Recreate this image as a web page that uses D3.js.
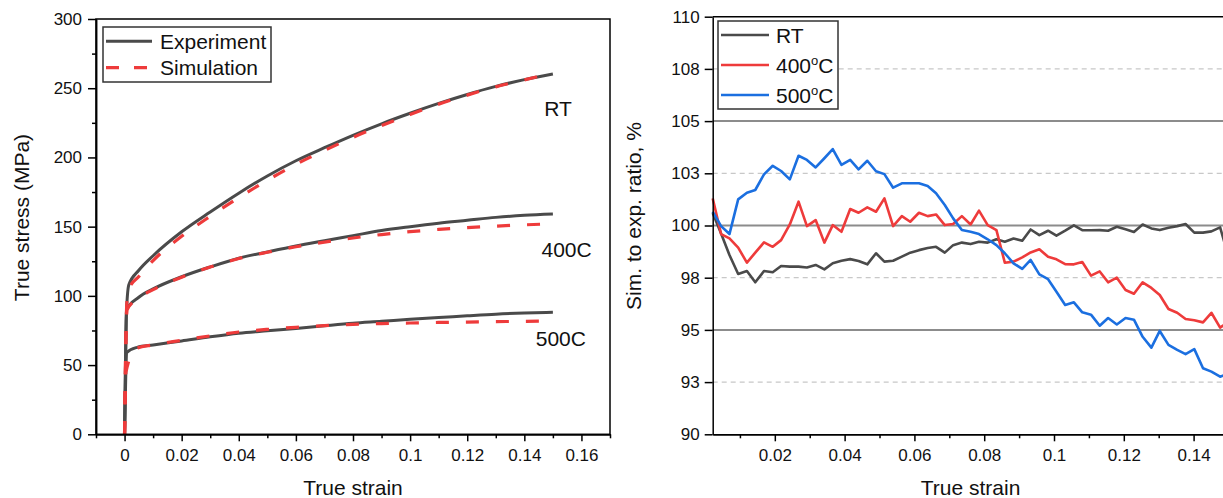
<!DOCTYPE html>
<html>
<head>
<meta charset="utf-8">
<script src="https://cdn.jsdelivr.net/npm/d3@7"></script>
<style>
  body { margin: 0; background: #fff; }
  svg { display: block; }
</style>
</head>
<body>
<svg id="chart" width="1223" height="498"></svg>
<script>
// ---------------- Left panel: true stress–strain curves ----------------
const rtExpStrain   = [0, 0.0003, 0.0006, 0.0015, 0.005, 0.01, 0.02, 0.03, 0.04, 0.05, 0.06, 0.07, 0.08, 0.09, 0.10, 0.11, 0.12, 0.13, 0.14, 0.15];
const rtExpStress   = [0, 45, 85, 108, 118.5, 129, 146.3, 160.6, 174.2, 186.6, 197.6, 207, 216, 224.3, 231.9, 239, 245.5, 251.3, 256.2, 260.3];
const t400ExpStrain = [0, 0.0004, 0.0007, 0.005, 0.01, 0.02, 0.03, 0.04, 0.05, 0.06, 0.07, 0.08, 0.09, 0.10, 0.11, 0.12, 0.13, 0.14, 0.15];
const t400ExpStress = [0, 60, 90, 99, 105, 113.8, 120.9, 127.2, 131.7, 136, 139.8, 143.5, 147.2, 150, 152.5, 154.6, 156.7, 158.2, 159.1];
const t500ExpStrain = [0, 0.0004, 0.0007, 0.0044, 0.01, 0.02, 0.03, 0.04, 0.05, 0.06, 0.07, 0.08, 0.09, 0.10, 0.11, 0.12, 0.13, 0.14, 0.15];
const t500ExpStress = [0, 40, 59, 62.8, 64.5, 67.4, 70.4, 73, 74.8, 76.5, 78.4, 80.2, 81.6, 83.1, 84.3, 85.6, 86.8, 87.6, 88.1];

const rtSimStrain   = [0, 0.0008, 0.0015, 0.005, 0.01, 0.02, 0.03, 0.04, 0.05, 0.06, 0.07, 0.08, 0.09, 0.10, 0.11, 0.12, 0.13, 0.14, 0.148];
const rtSimStress   = [0, 95, 105, 114, 125.5, 143, 157.5, 171, 183.5, 195, 205, 214.5, 223, 231, 238.5, 245, 251, 256, 260];
const t400SimStrain = [0, 0.0005, 0.0009, 0.005, 0.01, 0.02, 0.03, 0.04, 0.05, 0.06, 0.07, 0.08, 0.09, 0.10, 0.11, 0.12, 0.13, 0.14, 0.148];
const t400SimStress = [0, 70, 90, 98.5, 104.5, 113.5, 120.8, 127, 131.5, 135.5, 138.8, 141.8, 144.3, 146.4, 148, 149.3, 150.4, 151.3, 151.9];
const t500SimStrain = [0, 0.0005, 0.004, 0.01, 0.02, 0.03, 0.04, 0.05, 0.06, 0.07, 0.08, 0.09, 0.10, 0.11, 0.12, 0.13, 0.14, 0.148];
const t500SimStress = [0, 45, 62, 64.6, 67.9, 71.1, 73.9, 75.8, 77.3, 78.5, 79.4, 80, 80.4, 80.8, 81.1, 81.4, 81.6, 81.8];

const curveLabels = ["RT", "400C", "500C"];
const curveLabelAt = [[0.147, 230], [0.146, 128], [0.144, 64]];   // [strain, stress] anchor of each label
const stressLegend = ["Experiment", "Simulation"];

const strainTicksL = [0, 0.02, 0.04, 0.06, 0.08, 0.10, 0.12, 0.14, 0.16];
const strainMinorL = [-0.01, 0.01, 0.03, 0.05, 0.07, 0.09, 0.11, 0.13, 0.15, 0.17];
const stressTicks  = [0, 50, 100, 150, 200, 250, 300];
const stressMinor  = [25, 75, 125, 175, 225, 275];

// ---------------- Right panel: simulation / experiment ratio ----------------
const ratioStrain = [0.0022, 0.0046, 0.0070, 0.0095, 0.0120, 0.0144, 0.0169, 0.0194, 0.0218, 0.0243,
  0.0268, 0.0292, 0.0317, 0.0342, 0.0366, 0.0391, 0.0416, 0.0440, 0.0465, 0.0490,
  0.0514, 0.0539, 0.0564, 0.0588, 0.0613, 0.0638, 0.0662, 0.0687, 0.0711, 0.0736,
  0.0761, 0.0785, 0.0810, 0.0835, 0.0859, 0.0884, 0.0909, 0.0933, 0.0958, 0.0983,
  0.1007, 0.1032, 0.1057, 0.1081, 0.1106, 0.1131, 0.1155, 0.1180, 0.1205, 0.1229,
  0.1254, 0.1279, 0.1303, 0.1328, 0.1353, 0.1377, 0.1402, 0.1427, 0.1451, 0.1476, 0.1500];
const ratioRT = [100.6, 99.62, 98.59, 97.68, 97.82, 97.28, 97.82, 97.76, 98.06, 98.03,
  98.03, 97.99, 98.11, 97.90, 98.19, 98.31, 98.39, 98.30, 98.14, 98.67,
  98.27, 98.31, 98.51, 98.70, 98.82, 98.92, 98.98, 98.70, 99.06, 99.18,
  99.11, 99.22, 99.18, 99.34, 99.22, 99.38, 99.27, 99.81, 99.54, 99.75,
  99.51, 99.75, 100.01, 99.78, 99.77, 99.78, 99.75, 99.94, 99.82, 99.69,
  100.05, 99.86, 99.78, 99.89, 99.97, 100.07, 99.66, 99.66, 99.72, 99.91, 98.5];
const ratio400 = [101.30, 99.59, 99.38, 98.94, 98.22, 98.70, 99.19, 98.98, 99.30, 100.05,
  101.14, 99.97, 100.26, 99.18, 100.02, 99.70, 100.79, 100.61, 100.87, 100.66,
  101.30, 99.97, 100.45, 100.18, 100.61, 100.45, 100.53, 100.02, 100.07, 100.45,
  100.05, 100.71, 100.02, 99.78, 98.22, 98.27, 98.47, 98.71, 98.86, 98.50,
  98.38, 98.15, 98.14, 98.25, 97.60, 97.80, 97.28, 97.50, 96.91, 96.73,
  97.28, 97.01, 96.67, 96.00, 95.82, 95.52, 95.46, 95.36, 95.82, 95.11, 95.40];
const ratio500 = [100.66, 99.97, 99.59, 101.25, 101.57, 101.70, 102.45, 102.86, 102.61, 102.21,
  103.34, 103.14, 102.78, 103.22, 103.66, 102.90, 103.14, 102.69, 103.10, 102.60,
  102.46, 101.81, 102.02, 102.02, 102.02, 101.89, 101.54, 100.98, 100.34, 99.78,
  99.70, 99.59, 99.34, 99.06, 98.67, 98.19, 97.92, 98.35, 97.66, 97.43,
  96.83, 96.19, 96.32, 95.84, 95.73, 95.20, 95.57, 95.26, 95.57, 95.49,
  94.67, 94.15, 94.95, 94.28, 94.04, 93.84, 94.08, 93.16, 93.00, 92.76, 92.90];
const ratioNames = ["RT", "400", "500"];

const strainTicksR = [0.02, 0.04, 0.06, 0.08, 0.10, 0.12, 0.14];
const strainMinorR = [0.01, 0.03, 0.05, 0.07, 0.09, 0.11, 0.13, 0.15];
const ratioTicks   = [90, 92.5, 95, 97.5, 100, 102.5, 105, 107.5, 110];
const ratioSolid   = [95, 100, 105];
const ratioDashed  = [92.5, 97.5, 102.5, 107.5];

// ---------------- styling ----------------
const FONT = '"Liberation Sans", Arial, Helvetica, sans-serif';
const GRAY = "#4a4a4a", RED = "#ee3b3b", BLUE = "#1b6fe0";
const TICK_FS = 17, TITLE_FS = 21;

const svg = d3.select("#chart");
svg.append("rect").attr("width", 1223).attr("height", 498).attr("fill", "#fff");

const zip = (xs, ys) => xs.map((x, i) => [x, ys[i]]);
const fmtStrain = d => d === 0 ? "0" : d3.format("~g")(+d.toFixed(3));

function styleAxis(g) {
  g.attr("font-family", FONT).attr("font-size", TICK_FS);
  g.selectAll(".domain").attr("stroke", "#000").attr("stroke-width", 1.5);
  g.selectAll(".tick line").attr("stroke", "#000").attr("stroke-width", 1.5);
  g.selectAll(".tick text").attr("fill", "#111");
}

// ================= left panel =================
const L = { left: 96, right: 610, top: 19, bottom: 434.3 };
const xL = d3.scaleLinear().domain([-0.01, 0.17]).range([L.left, L.right]);
const yL = d3.scaleLinear().domain([0, 300]).range([L.bottom, L.top]);

const left = svg.append("g");
const lineL = d3.line().x(d => xL(d[0])).y(d => yL(d[1])).curve(d3.curveMonotoneX);

const expCurves = [zip(rtExpStrain, rtExpStress), zip(t400ExpStrain, t400ExpStress), zip(t500ExpStrain, t500ExpStress)];
const simCurves = [zip(rtSimStrain, rtSimStress), zip(t400SimStrain, t400SimStress), zip(t500SimStrain, t500SimStress)];

left.selectAll(".exp").data(expCurves).join("path")
  .attr("class", "exp").attr("d", lineL).attr("fill", "none")
  .attr("stroke", GRAY).attr("stroke-width", 3).attr("stroke-linejoin", "round");
left.selectAll(".sim").data(simCurves).join("path")
  .attr("class", "sim").attr("d", lineL).attr("fill", "none")
  .attr("stroke", RED).attr("stroke-width", 3.2).attr("stroke-dasharray", "13,17");

left.selectAll(".clabel").data(curveLabels).join("text")
  .attr("class", "clabel")
  .attr("x", (d, i) => xL(curveLabelAt[i][0]))
  .attr("y", (d, i) => yL(curveLabelAt[i][1]))
  .attr("font-family", FONT).attr("font-size", TITLE_FS).attr("fill", "#111")
  .text(d => d);

// axes
left.append("g").attr("transform", `translate(0,${L.bottom})`)
  .call(d3.axisBottom(xL).tickValues(strainMinorL).tickSize(4).tickSizeOuter(0).tickFormat(""))
  .call(styleAxis);
left.append("g").attr("transform", `translate(0,${L.bottom})`)
  .call(d3.axisBottom(xL).tickValues(strainTicksL).tickSize(7).tickPadding(8).tickSizeOuter(0).tickFormat(fmtStrain))
  .call(styleAxis);
left.append("g").attr("transform", `translate(${L.left},0)`)
  .call(d3.axisLeft(yL).tickValues(stressMinor).tickSize(4).tickSizeOuter(0).tickFormat(""))
  .call(styleAxis);
left.append("g").attr("transform", `translate(${L.left},0)`)
  .call(d3.axisLeft(yL).tickValues(stressTicks).tickSize(8).tickPadding(6).tickSizeOuter(0))
  .call(styleAxis);
left.append("rect")
  .attr("x", L.left).attr("y", L.top).attr("width", L.right - L.left).attr("height", L.bottom - L.top)
  .attr("fill", "none").attr("stroke", "#000").attr("stroke-width", 1.5);

left.append("text").attr("x", (L.left + L.right) / 2).attr("y", 495)
  .attr("text-anchor", "middle").attr("font-family", FONT).attr("font-size", TITLE_FS).attr("fill", "#111")
  .text("True strain");
left.append("text").attr("transform", "translate(29,217.5) rotate(-90)")
  .attr("text-anchor", "middle").attr("font-family", FONT).attr("font-size", TITLE_FS).attr("fill", "#111")
  .text("True stress (MPa)");

// legend
const legL = left.append("g");
legL.append("rect").attr("x", 103).attr("y", 27).attr("width", 168).attr("height", 55)
  .attr("fill", "#fff").attr("stroke", "#333").attr("stroke-width", 1.5);
stressLegend.forEach((name, i) => {
  const y = 41.3 + i * 26.4;
  legL.append("line").attr("x1", 106).attr("x2", 152).attr("y1", y).attr("y2", y)
    .attr("stroke", i === 0 ? GRAY : RED).attr("stroke-width", i === 0 ? 3 : 3.2)
    .attr("stroke-dasharray", i === 0 ? null : "13,15");
  legL.append("text").attr("x", 160).attr("y", y + 7.7)
    .attr("font-family", FONT).attr("font-size", TITLE_FS).attr("fill", "#111").text(name);
});

// ================= right panel =================
const R = { left: 712.7, right: 1228.5, top: 16.7, bottom: 434.3 };
const xR = d3.scaleLinear().domain([0.0022, 0.15]).range([R.left, R.right]);
const yR = d3.scaleLinear().domain([90, 110]).range([R.bottom, R.top]);
const right = svg.append("g");

right.selectAll(".gdash").data(ratioDashed).join("line")
  .attr("x1", R.left).attr("x2", R.right).attr("y1", d => yR(d)).attr("y2", d => yR(d))
  .attr("stroke", "#c8c8c8").attr("stroke-width", 1.2).attr("stroke-dasharray", "5,4");
right.selectAll(".gsolid").data(ratioSolid).join("line")
  .attr("x1", R.left).attr("x2", R.right).attr("y1", d => yR(d)).attr("y2", d => yR(d))
  .attr("stroke", "#8c8c8c").attr("stroke-width", 2);

const lineR = d3.line().x((d, i) => xR(ratioStrain[i])).y(d => yR(d));
const ratioSeries = [ratioRT, ratio400, ratio500];
const ratioColors = [GRAY, RED, BLUE];
right.selectAll(".ratio").data(ratioSeries).join("path")
  .attr("class", "ratio").attr("d", lineR).attr("fill", "none")
  .attr("stroke", (d, i) => ratioColors[i]).attr("stroke-width", 2.6)
  .attr("stroke-linejoin", "round");

right.append("g").attr("transform", `translate(0,${R.bottom})`)
  .call(d3.axisBottom(xR).tickValues(strainMinorR).tickSize(4).tickSizeOuter(0).tickFormat(""))
  .call(styleAxis);
right.append("g").attr("transform", `translate(0,${R.bottom})`)
  .call(d3.axisBottom(xR).tickValues(strainTicksR).tickSize(7).tickPadding(8).tickSizeOuter(0).tickFormat(fmtStrain))
  .call(styleAxis);
right.append("g").attr("transform", `translate(${R.left},0)`)
  .call(d3.axisLeft(yR).tickValues(ratioTicks).tickSize(8).tickPadding(5).tickSizeOuter(0)
    .tickFormat(d => Math.round(d)))
  .call(styleAxis);
right.append("line").attr("x1", R.left).attr("x2", R.right).attr("y1", R.top).attr("y2", R.top)
  .attr("stroke", "#000").attr("stroke-width", 1.5);
right.append("line").attr("x1", R.right).attr("x2", R.right).attr("y1", R.top).attr("y2", R.bottom)
  .attr("stroke", "#000").attr("stroke-width", 1.5);

right.append("text").attr("x", (R.left + R.right) / 2).attr("y", 495)
  .attr("text-anchor", "middle").attr("font-family", FONT).attr("font-size", TITLE_FS).attr("fill", "#111")
  .text("True strain");
right.append("text").attr("transform", "translate(641,216) rotate(-90)")
  .attr("text-anchor", "middle").attr("font-family", FONT).attr("font-size", TITLE_FS).attr("fill", "#111")
  .text("Sim. to exp. ratio, %");

// legend with degree-style superscript
const legR = right.append("g");
legR.append("rect").attr("x", 718).attr("y", 21).attr("width", 120).attr("height", 88)
  .attr("fill", "#fff").attr("stroke", "#333").attr("stroke-width", 1.5);
ratioNames.forEach((name, i) => {
  const y = 35 + i * 30;
  legR.append("line").attr("x1", 721).attr("x2", 769).attr("y1", y).attr("y2", y)
    .attr("stroke", ratioColors[i]).attr("stroke-width", 2.6);
  const t = legR.append("text").attr("x", 776).attr("y", y + 8)
    .attr("font-family", FONT).attr("font-size", TITLE_FS).attr("fill", "#111");
  if (name === "RT") {
    t.text(name);
  } else {
    t.append("tspan").text(name);
    t.append("tspan").attr("dy", -8).attr("font-size", 13).text("o");
    t.append("tspan").attr("dy", 8).text("C");
  }
});
</script>
</body>
</html>
